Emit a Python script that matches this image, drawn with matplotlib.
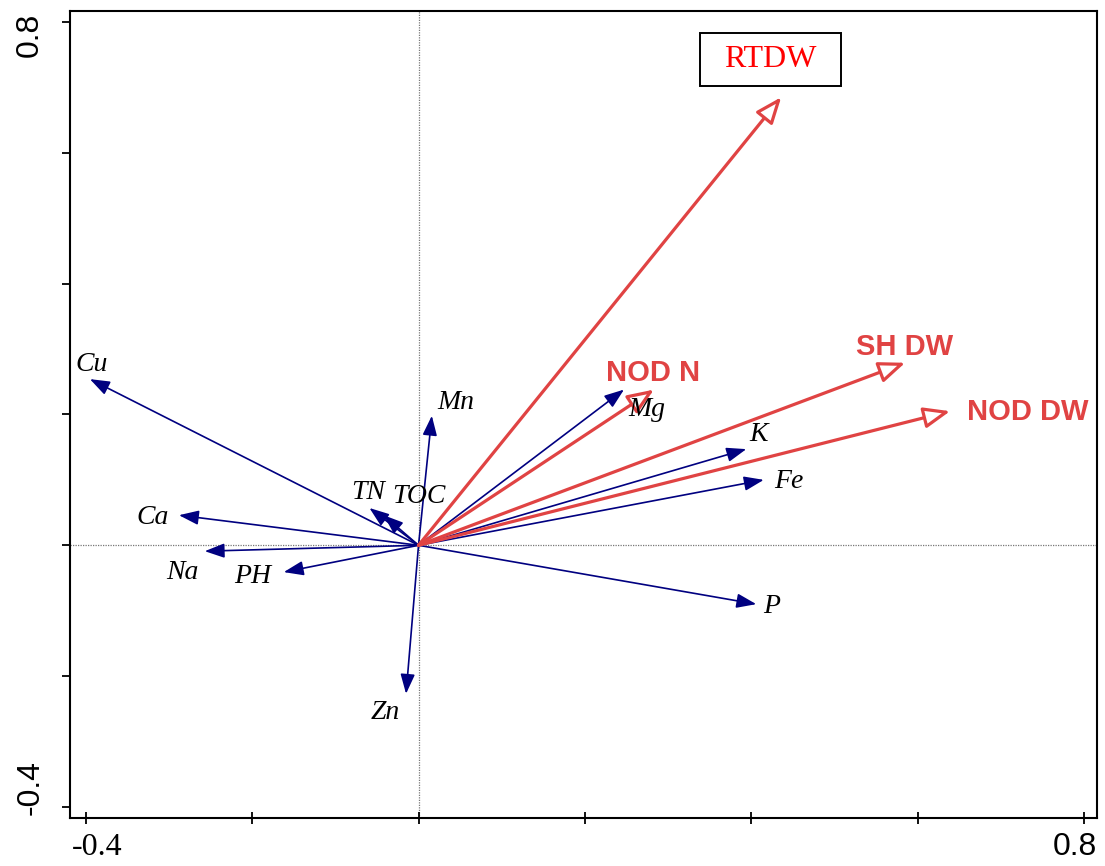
import matplotlib
matplotlib.use("Agg")
import matplotlib.pyplot as plt
from matplotlib.patches import Rectangle

# ---- data ----
env_names = ["Cu", "Mn", "Mg", "K", "Fe", "P", "Zn", "PH", "Na", "Ca", "TN", "TOC"]
env_x = [-0.395, 0.016, 0.247, 0.394, 0.415, 0.406, -0.015, -0.162, -0.257, -0.288, -0.059, -0.042]
env_y = [0.254, 0.198, 0.238, 0.147, 0.100, -0.090, -0.227, -0.041, -0.009, 0.046, 0.057, 0.046]
env_lx = [-0.393, 0.045, 0.274, 0.409, 0.445, 0.425, -0.040, -0.199, -0.284, -0.319, -0.060, 0.000]
env_ly = [0.276, 0.219, 0.207, 0.170, 0.097, -0.094, -0.256, -0.047, -0.041, 0.043, 0.081, 0.075]

resp_names = ["RTDW", "SH DW", "NOD DW", "NOD N"]
resp_x = [0.436, 0.585, 0.639, 0.283]
resp_y = [0.685, 0.279, 0.205, 0.238]
resp_lx = [0.4225, 0.584, 0.732, 0.282]
resp_ly = [0.742, 0.303, 0.204, 0.264]

xticks = [-0.4, -0.2, 0.0, 0.2, 0.4, 0.6, 0.8]
yticks = [-0.4, -0.2, 0.0, 0.2, 0.4, 0.6, 0.8]

BLUE = "#000080"
RED = "#E04343"

fig = plt.figure(figsize=(11.05, 8.66), dpi=100)
ax = fig.add_axes([0.0633, 0.0554, 0.9928 - 0.0633, 0.9873 - 0.0554])
ax.set_xlim(-0.419, 0.8156)
ax.set_ylim(-0.4169, 0.8167)

ax.axhline(0, color="#777777", lw=0.9, ls=(0, (1, 1)), zorder=1)
ax.axvline(0, color="#777777", lw=0.9, ls=(0, (1, 1)), zorder=1)

for sp in ax.spines.values():
    sp.set_linewidth(1.5)

ax.set_xticks(xticks)
ax.set_yticks(yticks)
ax.set_xticklabels([])
ax.set_yticklabels([])
ax.tick_params(axis="x", direction="inout", length=9, width=1.3)
ax.tick_params(axis="y", direction="out", length=6, width=1.3)

# tick labels (manual, mixed fonts as in reference)
ax.text(-0.4169, -0.046, "-0.4", transform=ax.get_xaxis_transform(),
        ha="left", va="baseline", fontsize=23, family="Liberation Serif")
ax.text(1.0, -0.046, "0.8", transform=ax.transAxes,
        ha="right", va="baseline", fontsize=23, family="Liberation Sans")
ax.text(-0.039, 0.8138, "0.8", transform=ax.get_yaxis_transform(),
        ha="center", va="top", rotation=90, fontsize=23, family="Liberation Sans")
ax.text(-0.038, -0.4122, "-0.4", transform=ax.get_yaxis_transform(),
        ha="center", va="bottom", rotation=90, fontsize=23, family="Liberation Sans")

# environmental arrows (blue)
for name, x, y, lx, ly in zip(env_names, env_x, env_y, env_lx, env_ly):
    ax.annotate("", xy=(x, y), xytext=(0, 0),
                arrowprops=dict(arrowstyle="-|>,head_length=0.6,head_width=0.22",
                                color=BLUE, lw=1.2, shrinkA=0, shrinkB=0,
                                mutation_scale=20), zorder=3)
    ax.text(lx, ly, name, ha="center", va="center", fontsize=20,
            family="Liberation Serif", style="italic", color="black", zorder=5)

# response arrows (red, open heads)
for name, x, y, lx, ly in zip(resp_names, resp_x, resp_y, resp_lx, resp_ly):
    ax.annotate("", xy=(x, y), xytext=(0, 0),
                arrowprops=dict(arrowstyle="-|>,head_length=0.8,head_width=0.32",
                                ec=RED, fc="white", lw=2.3, shrinkA=0, shrinkB=0,
                                mutation_scale=20), zorder=4)
    if name == "RTDW":
        ax.add_patch(Rectangle((0.3382, 0.7021), 0.5077 - 0.3382, 0.7831 - 0.7021,
                               fc="white", ec="black", lw=1.4, zorder=5))
        ax.text(lx, ly, name, ha="center", va="center", fontsize=23,
                family="Liberation Serif", color="red", zorder=6)
    else:
        ax.text(lx, ly, name, ha="center", va="center", fontsize=21,
                family="Liberation Sans", weight="bold", color=RED, zorder=5)

fig.savefig("out.png", dpi=100)
